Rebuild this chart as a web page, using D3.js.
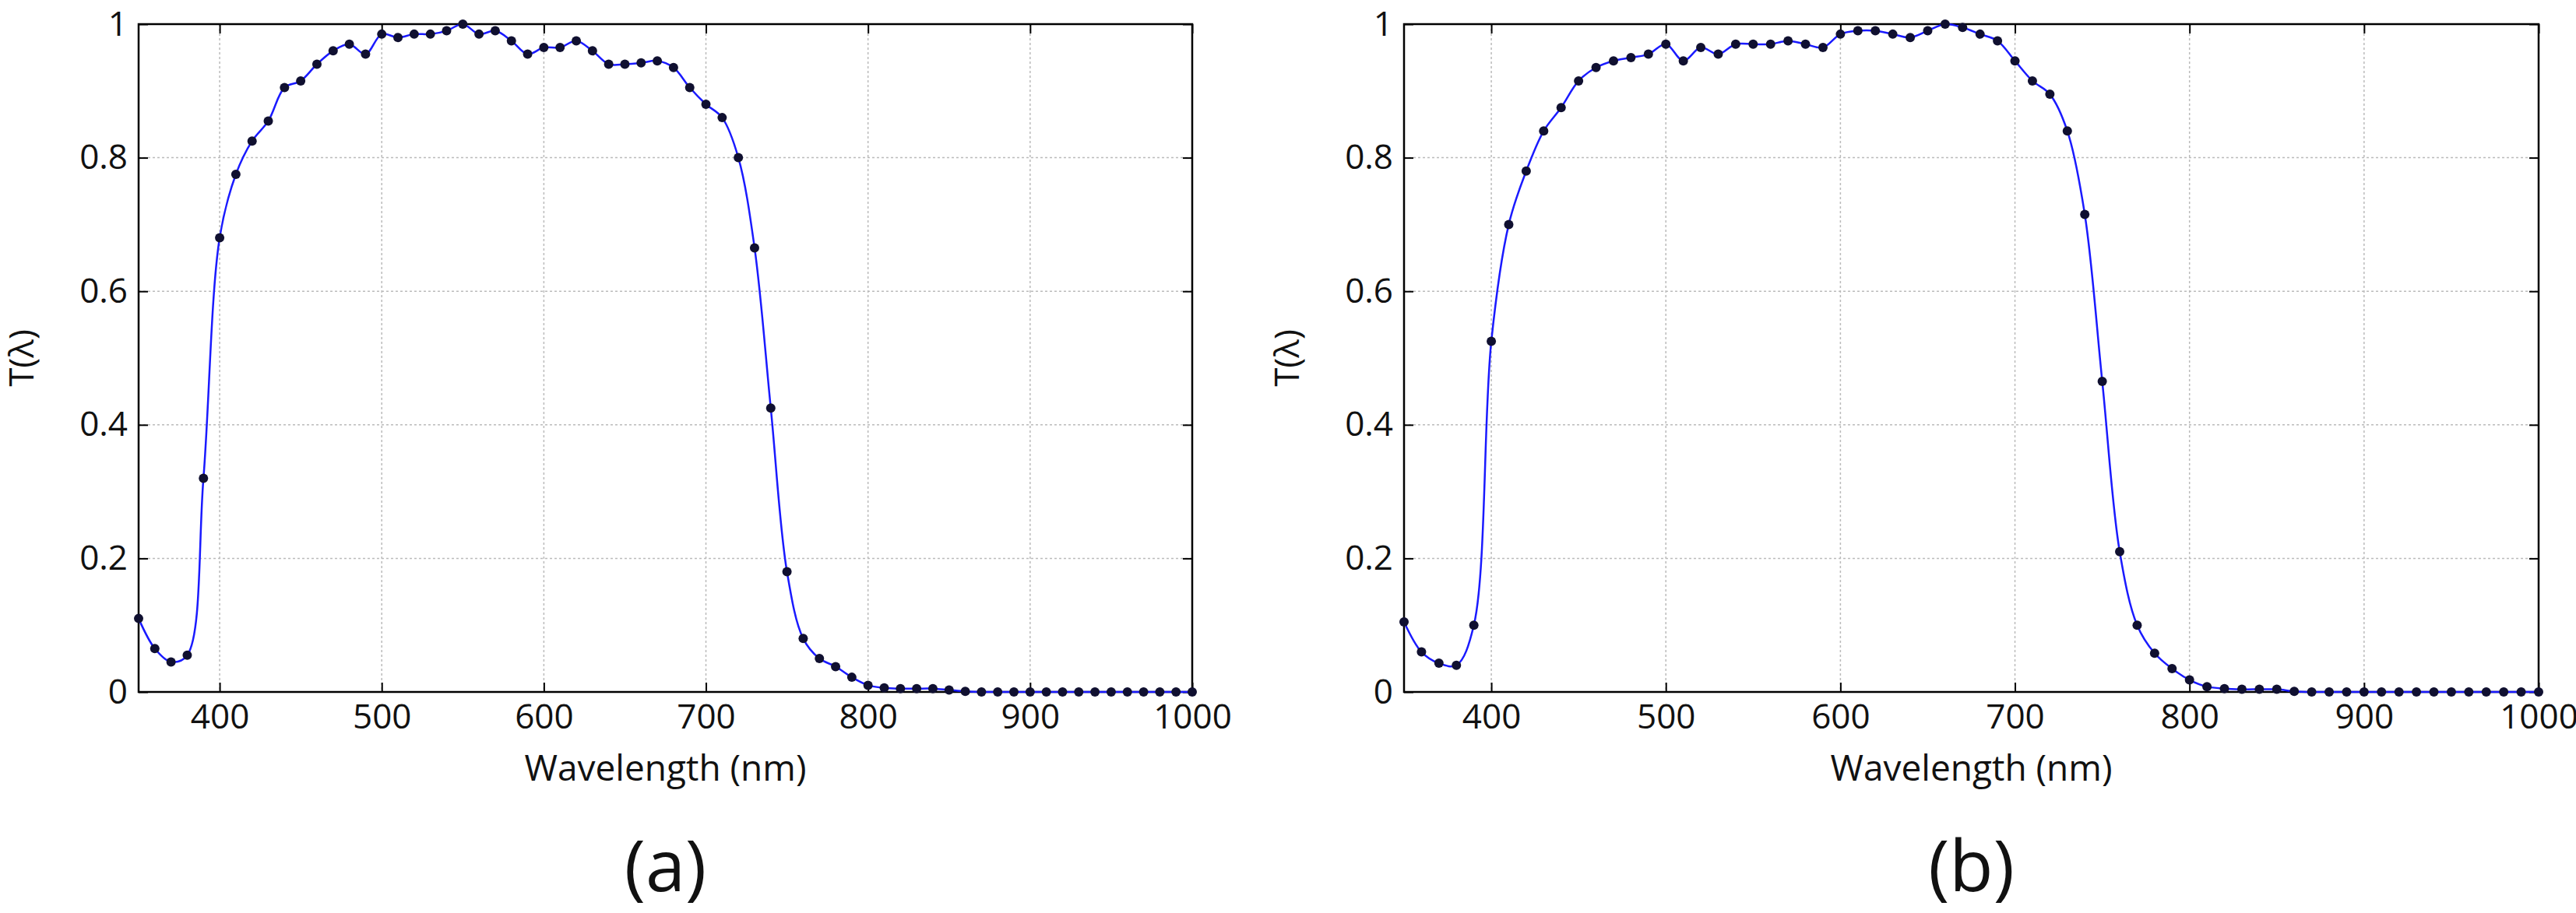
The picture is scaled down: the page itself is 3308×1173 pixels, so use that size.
<!DOCTYPE html><html><head><meta charset="utf-8">
<script src="https://cdn.jsdelivr.net/npm/d3@7"></script>
<style>body{margin:0;background:#fff}text{font-family:"Open Sans",sans-serif}</style></head><body>
<svg id="c" width="3308" height="1173"></svg>
<script>
const wavelengths = d3.range(350, 1001, 10);
const seriesA = [.11,.065,.045,.055,.32,.68,.775,.825,.855,.905,.915,.94,.96,.97,.955,.985,.98,.985,.985,.99,1.0,.985,.99,.975,.955,.965,.965,.975,.96,.94,.94,.942,.945,.935,.905,.88,.86,.80,.665,.425,.18,.08,.05,.038,.022,.01,.006,.005,.005,.005,.003,.001,0,0,0,0,0,0,0,0,0,0,0,0,0,0];
const seriesB = [.105,.06,.043,.04,.10,.525,.70,.78,.84,.875,.915,.935,.945,.95,.955,.97,.945,.965,.955,.97,.97,.97,.975,.97,.965,.985,.99,.99,.985,.98,.99,1.0,.995,.985,.975,.945,.915,.895,.84,.715,.465,.21,.10,.058,.035,.018,.008,.005,.004,.004,.004,.001,0,0,0,0,0,0,0,0,0,0,0,0,0,0];
const xTicks = [400,500,600,700,800,900,1000];
const yTicks = [0,0.2,0.4,0.6,0.8,1];
const panels = [{vals:seriesA,label:"(a)",x0:178,x1:1531},{vals:seriesB,label:"(b)",x0:1803,x1:3260}];
const svg = d3.select("#c");
const y0=31,y1=889;
panels.forEach(p=>{
  const g=svg.append("g");
  const x=d3.scaleLinear().domain([350,1000]).range([p.x0,p.x1]);
  const y=d3.scaleLinear().domain([0,1]).range([y1,y0]);
  xTicks.forEach(t=>g.append("line").attr("x1",x(t)).attr("x2",x(t)).attr("y1",y0).attr("y2",y1).attr("stroke","#bbb").attr("stroke-width",1.5).attr("stroke-dasharray","3,3"));
  yTicks.forEach(t=>g.append("line").attr("x1",p.x0).attr("x2",p.x1).attr("y1",y(t)).attr("y2",y(t)).attr("stroke","#bbb").attr("stroke-width",1.5).attr("stroke-dasharray","3,3"));
  const ax=(gen,tr)=>g.append("g").attr("transform",tr).call(gen).call(s=>{s.select(".domain").remove();s.selectAll("line").attr("stroke","#000").attr("stroke-width",2);s.selectAll("text").attr("font-size",44).attr("fill","#111").style("font-family","Open Sans");});
  ax(d3.axisBottom(x).tickValues(xTicks).tickSize(-12).tickPadding(16).tickFormat(d3.format("d")),`translate(0,${y1})`);
  ax(d3.axisTop(x).tickValues(xTicks).tickSize(-12).tickFormat(""),`translate(0,${y0})`);
  ax(d3.axisLeft(y).tickValues(yTicks).tickSize(-12).tickPadding(14).tickFormat(d=>d3.format("~g")(d)),`translate(${p.x0},0)`);
  ax(d3.axisRight(y).tickValues(yTicks).tickSize(-12).tickFormat(""),`translate(${p.x1},0)`);
  g.append("rect").attr("x",p.x0).attr("y",y0).attr("width",p.x1-p.x0).attr("height",y1-y0).attr("fill","none").attr("stroke","#000").attr("stroke-width",2.5);
  const data=wavelengths.map((w,i)=>[w,p.vals[i]]);
  g.append("path").datum(data).attr("d",d3.line().x(d=>x(d[0])).y(d=>y(d[1])).curve(d3.curveCatmullRom.alpha(0.5))).attr("fill","none").attr("stroke","#1a1aff").attr("stroke-width",2.5);
  g.selectAll("circle").data(data).join("circle").attr("cx",d=>x(d[0])).attr("cy",d=>y(d[1])).attr("r",6).attr("fill","#101030");
  g.append("text").attr("x",(p.x0+p.x1)/2).attr("y",1003).attr("text-anchor","middle").attr("font-size",46).attr("fill","#111").text("Wavelength (nm)");
  g.append("text").attr("transform",`translate(${p.x0-135},${(y0+y1)/2}) rotate(-90)`).attr("text-anchor","middle").attr("font-size",44).attr("fill","#111").text("T(λ)");
  g.append("text").attr("x",(p.x0+p.x1)/2).attr("y",1145).attr("text-anchor","middle").attr("font-size",92).attr("fill","#111").text(p.label);
});
</script></body></html>
